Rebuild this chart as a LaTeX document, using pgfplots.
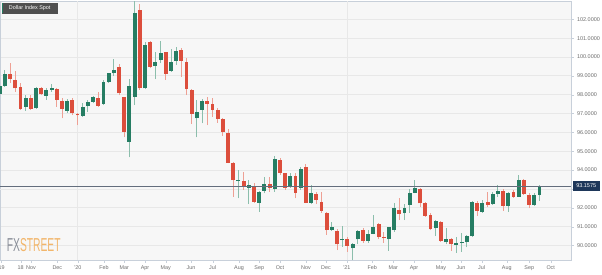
\documentclass[border=0pt]{standalone}
\usepackage{pgfplots}
\pgfplotsset{compat=1.18}
\usepackage{pgfplotstable}
\usepackage{fontspec}
\setmainfont{Liberation Sans}
\definecolor{cgreen}{RGB}{38,125,99}
\definecolor{cred}{RGB}{220,78,60}
\definecolor{wgreen}{RGB}{140,190,172}
\definecolor{wred}{RGB}{238,160,148}
\definecolor{bgcol}{RGB}{247,247,247}
\definecolor{gridcol}{RGB}{232,232,232}
\definecolor{axcol}{RGB}{200,208,218}
\definecolor{txtcol}{RGB}{110,110,110}
\definecolor{pricecol}{RGB}{100,110,125}
\definecolor{navy}{RGB}{30,55,90}
\definecolor{legbg}{RGB}{80,80,80}
\definecolor{fxgray}{RGB}{138,143,153}
\definecolor{fxorange}{RGB}{242,182,107}

% weekly candles, rising (close >= open)
\pgfplotstableread{
i O H L C
0 98.04 98.57 97.93 98.46
1 98.48 99.31 98.41 99.10
5 97.36 97.98 97.15 97.84
7 97.28 98.41 97.23 98.37
9 97.95 98.34 97.72 98.25
10 98.25 98.57 98.16 98.34
13 97.14 97.76 97.05 97.68
16 96.87 97.54 96.83 97.36
17 97.40 97.72 97.10 97.60
18 97.63 97.95 97.54 97.86
20 97.51 98.78 97.45 98.69
21 98.66 99.17 98.61 99.14
22 99.14 99.88 98.99 99.31
25 95.51 98.82 94.68 98.46
26 97.89 102.97 97.45 102.32
28 98.34 100.81 98.30 100.64
30 99.52 100.28 98.82 99.72
31 99.84 100.87 99.67 100.20
33 99.26 100.41 99.22 99.72
34 99.79 100.55 99.58 100.33
38 96.75 97.72 95.74 97.07
39 97.19 97.76 96.48 97.68
46 93.42 94.01 92.50 93.47
48 93.07 93.47 92.20 93.21
50 92.27 92.91 91.79 92.82
51 92.91 93.62 92.77 93.25
53 93.00 94.75 92.86 94.57
56 93.13 93.85 93.05 93.70
58 93.04 94.15 92.95 94.06
60 92.27 93.21 92.20 92.77
64 90.82 91.26 90.77 90.97
66 90.29 91.04 89.94 90.35
68 89.85 90.15 89.23 90.06
69 90.33 90.82 90.06 90.79
71 90.25 90.82 90.12 90.59
72 90.61 91.62 90.59 91.00
75 90.33 91.00 89.72 90.97
76 90.82 92.27 90.73 91.97
78 91.71 92.20 91.35 91.97
79 92.15 93.00 91.74 92.77
80 92.80 93.47 92.77 93.04
84 90.91 91.35 90.50 91.32
86 90.17 90.91 90.06 90.33
88 90.05 90.44 89.62 90.11
89 90.12 90.68 89.67 90.20
90 90.17 90.56 89.90 90.50
91 90.50 92.38 90.44 92.32
93 91.79 92.41 91.74 92.27
95 92.20 92.86 92.15 92.73
96 92.72 93.21 92.59 92.91
98 92.11 92.86 91.79 92.80
100 92.59 93.74 92.56 93.47
103 92.15 92.77 92.10 92.68
104 92.68 93.20 92.37 93.1575
}\up

% weekly candles, falling (close < open)
\pgfplotstableread{
i O H L C
2 99.10 99.70 98.64 98.83
3 98.78 99.26 98.16 98.34
4 98.43 98.64 97.19 97.23
6 97.81 97.98 97.19 97.23
8 98.37 98.43 97.98 98.02
11 98.29 98.34 97.36 97.72
12 97.68 97.81 96.75 97.23
14 97.72 97.81 96.92 97.01
15 96.95 97.01 96.39 96.90
19 97.81 98.16 97.36 97.40
23 99.45 99.63 97.98 98.07
24 97.86 97.89 95.74 96.04
27 102.49 102.81 98.25 98.34
29 100.78 100.87 99.40 99.49
32 100.25 100.28 98.78 99.10
35 100.37 100.46 98.96 99.80
36 99.75 99.93 97.98 98.29
37 98.25 98.29 96.45 96.98
40 97.68 97.86 96.39 97.51
41 97.51 97.81 96.83 97.19
42 97.19 97.29 96.50 96.70
43 96.70 96.75 95.81 96.04
44 95.95 96.16 94.36 94.39
45 94.36 94.45 92.59 93.47
47 93.44 93.92 92.95 93.12
49 93.17 93.32 92.27 92.32
52 93.25 93.62 92.86 93.04
54 94.54 94.63 93.74 93.86
55 93.83 93.86 92.95 93.05
57 93.70 93.83 92.50 92.80
59 94.15 94.31 92.24 92.27
61 92.72 92.82 92.20 92.41
62 92.29 92.82 91.74 91.85
63 91.74 91.79 90.56 90.82
65 90.77 90.86 89.76 90.06
67 90.33 90.44 89.67 89.99
70 90.82 90.91 90.12 90.25
73 91.13 91.21 90.33 90.44
74 90.47 90.73 90.15 90.38
77 91.88 92.50 91.35 91.66
81 93.00 93.07 92.06 92.24
82 92.24 92.32 91.53 91.57
83 91.62 91.71 90.82 90.86
85 91.26 91.32 90.20 90.25
87 90.33 90.38 89.72 90.06
92 92.27 92.38 91.57 91.85
94 92.32 92.86 92.03 92.15
97 92.91 92.98 91.85 92.10
99 92.86 92.95 92.52 92.59
101 93.47 93.51 92.68 92.73
102 92.68 92.77 91.97 92.15
}\down

\begin{document}
\begin{tikzpicture}
\useasboundingbox (0pt,0pt) rectangle (602pt,274pt);
\fill[white] (0pt,0pt) rectangle (602pt,274pt);
\begin{axis}[
  at={(0pt,273pt)}, anchor=north west,
  scale only axis, width=571pt, height=259pt,
  xmin=0.058, xmax=110.08, ymin=89.23, ymax=102.97,
  axis background/.style={fill=bgcol},
  axis line style={draw=axcol},
  tick align=outside, major tick length=2.5pt,
  tick style={draw=axcol},
  xtick pos=bottom, ytick pos=right, yticklabel pos=right,
  xtick={0.25,4.05,6.03,11.1,15.03,20.1,24,28,31.98,36.86,41.04,46.1,50.02,54,59,62.87,66.86,71.79,75.84,79.83,85.03,88.88,92.87,97.69,102.04,106.17},
  xticklabels={'19,18,Nov,Dec,'20,Feb,Mar,Apr,May,Jun,Jul,Aug,Sep,Oct,Nov,Dec,'21,Feb,Mar,Apr,May,Jun,Jul,Aug,Sep,Oct},
  extra x ticks={14.95,67.05}, extra x tick labels={},
  extra x tick style={grid=major, major tick length=0pt},
  ytick={90,91,92,94,95,96,97,98,99,100,101,102},
  extra y ticks={93}, extra y tick labels={},
  extra y tick style={grid=major},
  ymajorgrids, major grid style={draw=gridcol, line width=0.7pt},
  /pgf/number format/assume math mode=true,
  yticklabel style={/pgf/number format/.cd, fixed, fixed zerofill, precision=4, 1000 sep={}, /tikz/.cd,
     font=\fontsize{5.5}{6}\selectfont, text=txtcol},
  xticklabel style={font=\fontsize{5.4}{6}\selectfont, text=txtcol},
]
% wicks
\addplot[draw=none, mark=none, error bars/.cd, y dir=plus, y explicit, error mark=none,
  error bar style={draw=wgreen, line width=0.9pt}]
  table[x=i, y=L, y error plus expr=\thisrow{H}-\thisrow{L}] {\up};
\addplot[draw=none, mark=none, error bars/.cd, y dir=plus, y explicit, error mark=none,
  error bar style={draw=wred, line width=0.9pt}]
  table[x=i, y=L, y error plus expr=\thisrow{H}-\thisrow{L}] {\down};
% bodies
\addplot[draw=none, mark=none, error bars/.cd, y dir=plus, y explicit, error mark=none,
  error bar style={draw=cgreen, line width=3.9pt}]
  table[x=i, y=O, y error plus expr=\thisrow{C}-\thisrow{O}] {\up};
\addplot[draw=none, mark=none, error bars/.cd, y dir=plus, y explicit, error mark=none,
  error bar style={draw=cred, line width=3.9pt}]
  table[x=i, y=C, y error plus expr=\thisrow{O}-\thisrow{C}] {\down};
% last price line
\addplot[pricecol, line width=0.9pt] coordinates {(0.058,93.1575) (110.08,93.1575)};
\coordinate (pl) at (axis cs:110.08,93.1575);
\end{axis}
\node[fill=navy, text=white, font=\fontsize{5.5}{6}\selectfont, inner sep=0pt,
  minimum width=27pt, minimum height=10pt, anchor=west] at ([xshift=1.5pt]pl) {93.1575};
% legend box
\node[fill=legbg, text=white, font=\fontsize{5.4}{6}\selectfont, inner sep=0pt,
  minimum width=55.6pt, minimum height=10.6pt, anchor=north west] at (1.7pt,271.3pt) {Dollar Index Spot};
\fill[cgreen] (1.7pt,260.7pt) rectangle (3.2pt,271.3pt);
% logo
\node[anchor=south west, inner sep=0pt] at (6.7pt,22.3pt)
  {\scalebox{0.55}[1]{\fontsize{18.7}{19}\selectfont\color{fxgray}FX\color{fxorange}STREET}};
\end{tikzpicture}
\end{document}
